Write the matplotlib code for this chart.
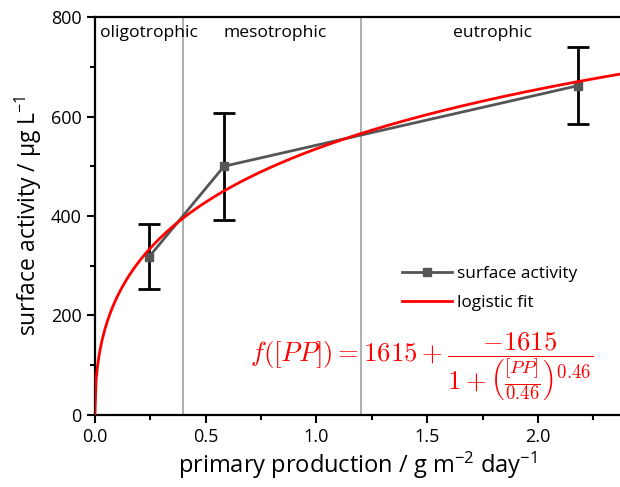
import numpy as np
import matplotlib
matplotlib.use("Agg")
from matplotlib import pyplot as plt
from matplotlib.ticker import MultipleLocator, FormatStrFormatter

plt.rcParams['font.family'] = ['Open Sans', 'DejaVu Sans']
plt.rcParams['mathtext.fontset'] = 'custom'
plt.rcParams['mathtext.rm'] = 'Open Sans'
plt.rcParams['mathtext.it'] = 'Open Sans:italic'

# measured data
pp = [0.245, 0.583, 2.18]
activity = [318, 500, 662]
activity_err = [65, 108, 77]

# logistic fit parameters
fit_a = 1615
fit_x0 = 4.6
fit_p = 0.46

# trophic boundaries and labels
bounds = [0.4, 1.2]
zone_names = ['oligotrophic', 'mesotrophic', 'eutrophic']
zone_x = [0.242, 0.813, 1.796]

x_fit = np.linspace(0, 2.37, 400)
y_fit = fit_a - fit_a / (1 + (x_fit / fit_x0) ** fit_p)

fig = plt.figure(figsize=(6.2, 4.87), dpi=100)
ax = fig.add_axes([0.153, 0.148, 0.847, 0.817])

for b in bounds:
    ax.axvline(b, color='#a8a8a8', lw=1.3, zorder=1)
for name, zx in zip(zone_names, zone_x):
    ax.text(zx, 768, name, ha='center', va='center', fontsize=12.6)

ax.errorbar(pp, activity, yerr=activity_err, fmt='none', ecolor='black',
            elinewidth=2, capsize=8, capthick=2, zorder=3)
ax.plot(pp, activity, color='#555555', lw=2, marker='s', markersize=6,
        label='surface activity', zorder=4)
ax.plot(x_fit, y_fit, color='red', lw=2, label='logistic fit', zorder=5)

ax.text(0.295, 0.132,
        r'$f([PP]) = 1615 + \dfrac{-1615}{1+\left(\frac{[PP]}{0.46}\right)^{0.46}}$',
        transform=ax.transAxes, color='red', fontsize=19.3, va='baseline',
        math_fontfamily='cm')

ax.legend(loc='upper left', bbox_to_anchor=(0.585, 0.375), frameon=False,
          fontsize=12.4, handlelength=2.9, handletextpad=0.3, labelspacing=0.75,
          borderpad=0, borderaxespad=0)

ax.set_xlim(0, 2.37)
ax.set_ylim(0, 800)
ax.xaxis.set_major_locator(MultipleLocator(0.5))
ax.xaxis.set_minor_locator(MultipleLocator(0.25))
ax.yaxis.set_major_locator(MultipleLocator(200))
ax.yaxis.set_minor_locator(MultipleLocator(100))
ax.xaxis.set_major_formatter(FormatStrFormatter('%.1f'))
ax.tick_params(which='major', direction='out', length=6, width=1.5, labelsize=13)
ax.tick_params(which='minor', direction='out', length=3.5, width=1.5)
for s in ['left', 'bottom', 'top']:
    ax.spines[s].set_linewidth(1.6)
ax.spines['right'].set_visible(False)

ax.set_xlabel(r'primary production / g m$^{-2}$ day$^{-1}$', fontsize=17, labelpad=3)
ax.set_ylabel(r'surface activity / µg L$^{-1}$', fontsize=16.5, labelpad=5)

fig.savefig('out.png', dpi=100)
